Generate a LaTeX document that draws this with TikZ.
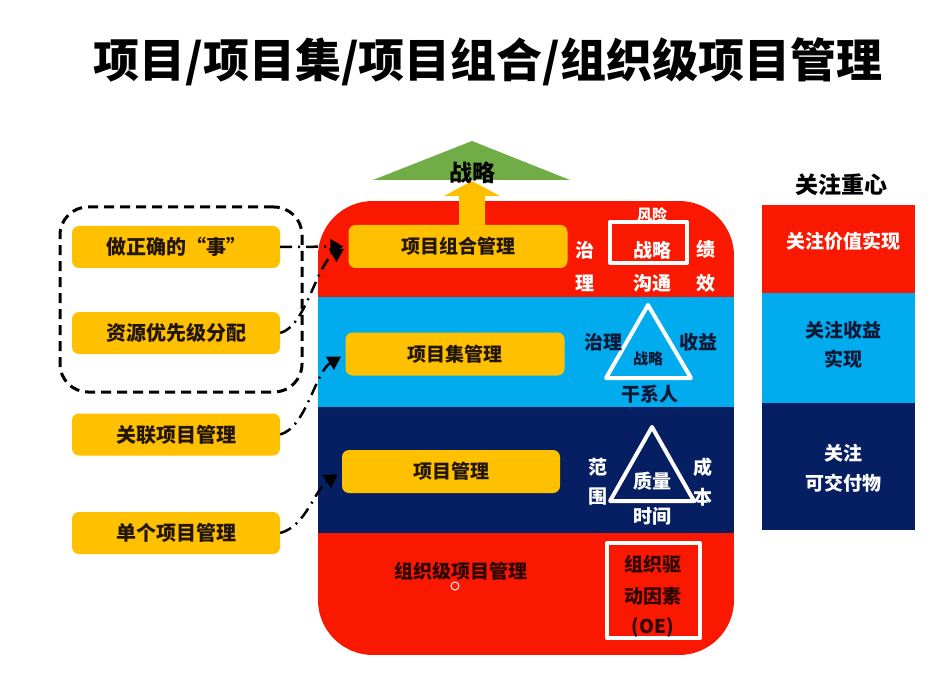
\documentclass[tikz,border=0pt]{standalone}
\usepackage{fontspec}
\setmainfont{Noto Sans CJK SC}[BoldFont={Noto Sans CJK SC Black}]
\usetikzlibrary{arrows.meta,calc}
\definecolor{pred}{RGB}{250,24,0}
\definecolor{plb}{RGB}{0,172,238}
\definecolor{pdb}{RGB}{6,30,98}
\definecolor{pyel}{RGB}{255,192,0}
\definecolor{pgrn}{RGB}{112,173,71}
\definecolor{ptxt}{RGB}{35,22,5}
\definecolor{pnavy}{RGB}{15,25,55}
\definecolor{pmaroon}{RGB}{45,5,0}
\begin{document}
\begin{tikzpicture}[x=1pt,y=-1pt,
  fs/.style={font=\bfseries\fontsize{#1}{#1}\selectfont},
  ybox/.style={fill=pyel, rounded corners=7pt, minimum width=208pt, minimum height=42pt, inner sep=0pt, text=ptxt, fs=20},
  ibox/.style={fill=pyel, rounded corners=7pt, minimum width=219pt, minimum height=43pt, inner sep=0pt, text=ptxt, fs=19},
  lbl/.style={inner sep=0pt, fs=19, text=white},
  dlbl/.style={inner sep=0pt, fs=19, text=pnavy},
  grp/.style={draw=black, line width=3pt, dash pattern=on 10pt off 6pt, rounded corners=28pt, minimum width=242pt, minimum height=185pt, inner sep=0pt},
  conn/.style={draw=black, line width=2.5pt, dash pattern=on 12pt off 6pt on 2pt off 6pt, -{Triangle[length=13pt,width=15pt]}, shorten >=5pt},
  wline/.style={draw=white, line width=4pt, line join=round},
  colbox/.style={minimum width=153pt, inner sep=0pt},
]
\useasboundingbox (0,0) rectangle (952,684);
\fill[white] (0,0) rectangle (952,684);

% title
\node[fs=46, inner sep=0pt] (title) at (488,62) {项目/项目集/项目组合/组织级项目管理};

% main rounded shape with bands
\begin{scope}
  \clip[rounded corners=55pt] (318,201) rectangle (734,655);
  \fill[pred] (318,201) rectangle (734,297);
  \fill[plb]  (318,297) rectangle (734,407);
  \fill[pdb]  (318,407) rectangle (734,533);
  \fill[pred] (318,533) rectangle (734,655);
\end{scope}

% strategy arrow and green triangle
\fill[pyel] (459,226) -- (459,196) -- (444,196) -- (472,181) -- (500,196) -- (485,196) -- (485,226) -- cycle;
\fill[pgrn] (373,180) -- (472,141) -- (570,180) -- cycle;
\node[fs=23, inner sep=0pt, text=black] (zl) at (472,173) {战略};

% inner yellow boxes
\node[ibox] (pm) at (458,246.5) {项目组合管理};
\node[ibox] (pg) at (455,354) {项目集管理};
\node[ibox, minimum width=218pt] (pj) at (451,471.5) {项目管理};

% red band (portfolio) details
\node[lbl, fs=15] (fx) at (652,215) {风险};
\node[wline, minimum width=77pt, minimum height=41pt, inner sep=0pt] (zlbox) at (648.5,242.5) {};
\node[lbl] (zl1) at (652,250) {战略};
\node[lbl] (gt) at (652,283) {沟通};
\node[lbl] (zh) at (585,250) {治};
\node[lbl] (li) at (585,283) {理};
\node[lbl] (ji) at (706,249) {绩};
\node[lbl] (xi) at (706,283) {效};

% light blue band (program) details
\draw[wline] (648,305) -- (606,378) -- (691,378) -- cycle;
\node[dlbl, fs=15] (zl2) at (648,359) {战略};
\node[dlbl] (zl3) at (603,342) {治理};
\node[dlbl] (sy) at (698,342) {收益};
\node[dlbl] (gxr) at (650,394) {干系人};

% dark blue band (project) details
\draw[wline] (652,427) -- (610,501) -- (694,501) -- cycle;
\node[lbl] (zlq) at (652,481) {质量};
\node[lbl] (fan) at (598,467) {范};
\node[lbl] (wei) at (598,497) {围};
\node[lbl] (cheng) at (703,467) {成};
\node[lbl] (ben) at (703,497) {本};
\node[lbl] (sj) at (652,516) {时间};

% bottom red band (OPM)
\node[inner sep=0pt, fs=19, text=pmaroon] (opm) at (461,571) {组织级项目管理};
\draw[draw=pink!70!white, line width=1.2pt] (455,586) circle[radius=4pt];
\node[wline, minimum width=93pt, minimum height=95pt, inner sep=0pt] (oebox) at (653.5,590.5) {};
\node[inner sep=0pt, fs=19, text=pmaroon] (oe1) at (653,564) {组织驱};
\node[inner sep=0pt, fs=19, text=pmaroon] (oe2) at (653,596) {动因素};
\node[inner sep=0pt, fs=19, text=pmaroon] (oe3) at (653,627) {(OE)};

% left boxes
\node[grp] (grp) at (181,299.5) {};
\node[ybox] (b1) at (176,247) {做正确的“事”};
\node[ybox] (b2) at (176,333) {资源优先级分配};
\node[ybox] (b3) at (176,434.5) {关联项目管理};
\node[ybox] (b4) at (176,533) {单个项目管理};

% connectors
\draw[conn] (b1.east) -- (pm.west);
\draw[conn] (b2.east) .. controls ($(b2.east)+(26,-7)$) and ($(pm.west)+(-32,18)$) .. (pm.west);
\draw[conn] (b3.east) .. controls ($(b3.east)+(26,-7)$) and ($(pg.west)+(-30,18)$) .. (pg.west);
\draw[conn] (b4.east) .. controls ($(b4.east)+(26,-7)$) and ($(pj.west)+(-27,18)$) .. (pj.west);

% right column
\node[fs=23, inner sep=0pt, text=black] (gzzx) at (841,185) {关注重心};
\node[colbox, fill=pred, minimum height=88pt] (f1) at (838.5,249) {};
\node[colbox, fill=plb, minimum height=110pt] (f2) at (838.5,348) {};
\node[colbox, fill=pdb, minimum height=127pt] (f3) at (838.5,466.5) {};
\node[lbl] (t1) at (843,241) {关注价值实现};
\node[dlbl] (t2a) at (843,330) {关注收益};
\node[dlbl] (t2b) at (843,359) {实现};
\node[lbl] (t3a) at (843,453) {关注};
\node[lbl] (t3b) at (843,483) {可交付物};
\end{tikzpicture}
\end{document}
